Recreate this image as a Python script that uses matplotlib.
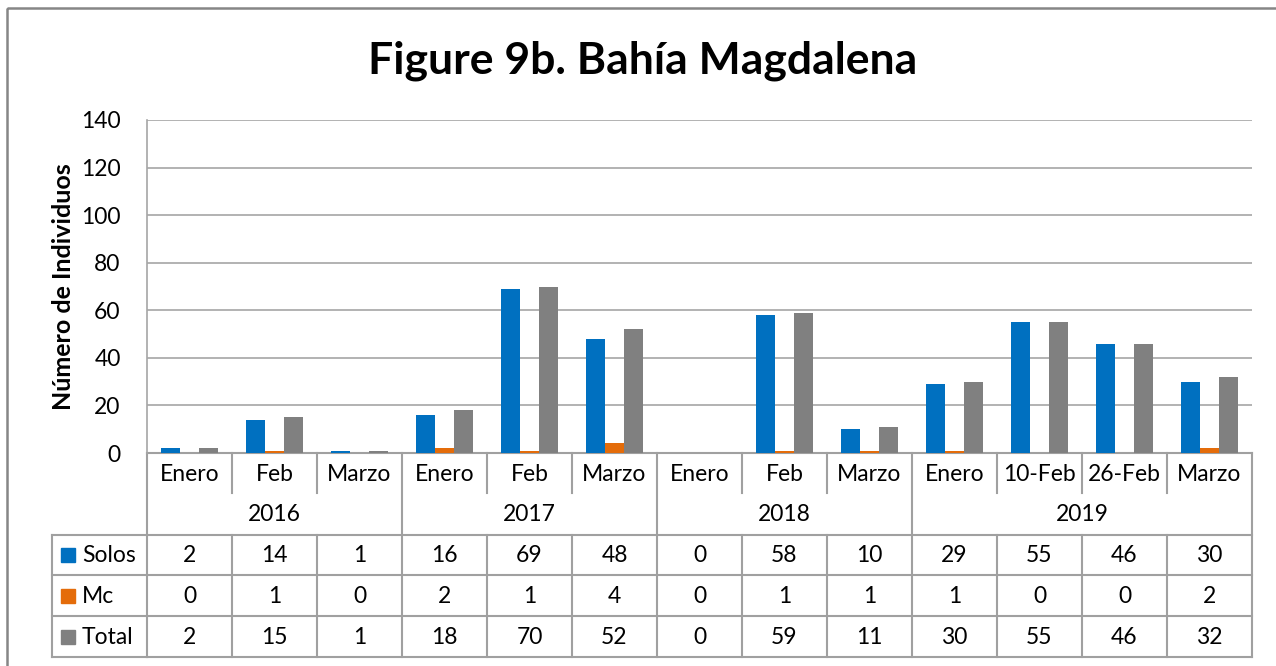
import matplotlib
matplotlib.use('Agg')
import matplotlib.pyplot as plt
import numpy as np
from matplotlib.transforms import Affine2D, blended_transform_factory
from matplotlib.patches import Rectangle

##########################################################
#                        Data                            #
##########################################################

years = ['2016', '2017', '2018', '2019']
year_sizes = [3, 3, 3, 4]
months = ['Enero', 'Feb', 'Marzo', 'Enero', 'Feb', 'Marzo', 'Enero', 'Feb', 'Marzo',
          'Enero', '10-Feb', '26-Feb', 'Marzo']
solos = [2, 14, 1, 16, 69, 48, 0, 58, 10, 29, 55, 46, 30]
mc = [0, 1, 0, 2, 1, 4, 0, 1, 1, 1, 0, 0, 2]
total = [2, 15, 1, 18, 70, 52, 0, 59, 11, 30, 55, 46, 32]

series_names = ['Solos', 'Mc', 'Total']
series_colors = ['#0070C0', '#E46C0A', '#808080']

plt.rcParams['font.family'] = ['Lato', 'DejaVu Sans']

##########################################################
#                     Figure setup                       #
##########################################################

W, H = 1276, 666
fig = plt.figure(figsize=(W / 100, H / 100), dpi=100)
ax = fig.add_axes([147 / W, 1 - 453 / H, (1252 - 147) / W, (453 - 120) / H])

# pixel coords with y going down
px = Affine2D().scale(1 / W, -1 / H).translate(0, 1) + fig.transFigure
tbl = blended_transform_factory(ax.transData, px)

grid_col = '#A6A6A6'
line_col = '#A0A0A0'
fs = 16.5

##########################################################
#                        Bars                            #
##########################################################

x = np.arange(len(months))
bw = 0.224
for i, (vals, col) in enumerate(zip([solos, mc, total], series_colors)):
    ax.bar(x + (i - 1) * bw, vals, width=bw, color=col, zorder=3)

ax.set_xlim(-0.5, len(months) - 0.5)
ax.set_ylim(0, 140)
ax.set_yticks(range(0, 141, 20))
ax.yaxis.grid(True, color=grid_col, lw=1.2, zorder=0)
ax.set_xticks([])
ax.tick_params(axis='y', length=0, pad=19, labelsize=fs)
for s in ['top', 'right', 'bottom']:
    ax.spines[s].set_visible(False)
ax.spines['left'].set_color(grid_col)
ax.spines['left'].set_linewidth(1.2)

ax.set_ylabel('Número de Individuos', fontsize=18, fontweight='bold', labelpad=4)
fig.text(643 / W, 1 - 61 / H, 'Figure 9b. Bahía Magdalena', ha='center', va='center',
         fontsize=32, fontweight='bold')

##########################################################
#                     Data table                         #
##########################################################

def hline(x0, x1, y, trans):
    ax.plot([x0, x1], [y, y], color=line_col, lw=1.5, transform=trans, clip_on=False)

def vline(xx, y0, y1, trans):
    ax.plot([xx, xx], [y0, y1], color=line_col, lw=1.5, transform=trans, clip_on=False)

n = len(months)
left, right = -0.5, n - 0.5
cat_top, cat_bot, year_bot = 453, 494, 535
row_edges = [535, 575, 616, 657]

# header lines
hline(left, right, cat_top, tbl)
vline(left, cat_top, row_edges[-1], tbl)
vline(right, cat_top, row_edges[-1], tbl)

# category dividers in month row; year dividers through both header rows
bounds = np.cumsum(year_sizes)[:-1] - 0.5
for b in np.arange(0.5, n - 0.5, 1):
    if b in bounds:
        vline(b, cat_top, row_edges[-1], tbl)
    else:
        vline(b, cat_top, cat_bot - 1, tbl)
        vline(b, year_bot, row_edges[-1], tbl)

for i, m in enumerate(months):
    ax.text(i, (cat_top + cat_bot) / 2 + 1, m, ha='center', va='center',
            fontsize=fs, transform=tbl)

start = 0
for yr, sz in zip(years, year_sizes):
    ax.text(start + (sz - 1) / 2, (cat_bot + year_bot) / 2, yr, ha='center', va='center',
            fontsize=fs, transform=tbl)
    start += sz

# data rows
for e in row_edges:
    hline(left, right, e, tbl)
    ax.plot([52, 147], [e, e], color=line_col, lw=1.5, transform=px, clip_on=False)
ax.plot([52, 52], [row_edges[0], row_edges[-1]], color=line_col, lw=1.5, transform=px,
        clip_on=False)

for r, (name, col, vals) in enumerate(zip(series_names, series_colors, [solos, mc, total])):
    yc = (row_edges[r] + row_edges[r + 1]) / 2
    fig.add_artist(Rectangle((61, yc - 7), 14, 14, color=col, transform=px))
    ax.text(82, yc + 1, name, ha='left', va='center', fontsize=fs, transform=px)
    for i, v in enumerate(vals):
        ax.text(i, yc + 1, str(v), ha='center', va='center', fontsize=fs, transform=tbl)

# outer chart frame
fig.add_artist(Rectangle((7, 8), 1300, 700, fill=False, ec='#868686', lw=1.8, transform=px))

fig.savefig('out.png', dpi=100)
